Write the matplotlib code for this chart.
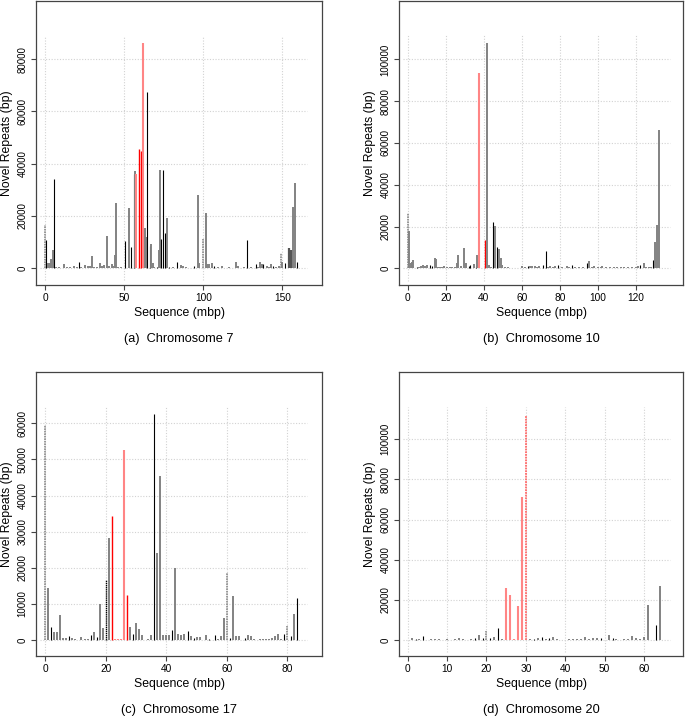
import matplotlib
matplotlib.use("Agg")
import matplotlib.pyplot as plt

plt.rcParams["font.family"] = ["Liberation Sans", "DejaVu Sans"]

# bar kinds: g = gray, k = black, r = red, p = light red,
# d = dotted gray, dk = dotted black, dp = dotted light red, dg = dark gray

# Chromosome 7
chr7_pos = [0, 0.8, 2, 3, 3.8, 5, 5.9, 7, 8, 9, 10, 12, 14, 16, 18, 20, 21.7, 23,
            25.5, 27, 28.5, 29.7, 31, 33, 34.8, 36, 37.5, 39, 40.5, 42, 43, 44,
            44.7, 46, 48, 50.8, 52.9, 54.6, 56, 56.7, 57.7, 59.4, 60.9, 62, 63,
            63.6, 64.7, 66.2, 67, 68, 69, 71, 72.3, 72.7, 73.5, 74.8, 76, 76.9,
            78, 80, 81, 83.6, 86, 87, 89, 91, 93.8, 96.5, 97.5, 100, 101.6,
            102.5, 103.5, 105.5, 107, 109, 112, 114, 116, 118, 120.5, 122, 124,
            126, 127.9, 130, 133, 134.5, 136, 137, 138, 140, 141.5, 143, 144,
            146, 148, 149, 149.5, 151.9, 154.4, 155.2, 156, 156.8, 157.8, 158.9]
chr7_val = [16500, 11000, 1900, 2200, 3400, 7000, 34000, 400, 300, 700, 300, 1500,
            500, 600, 800, 500, 2500, 600, 1300, 800, 900, 4800, 400, 500, 2000,
            800, 1200, 12300, 900, 1500, 1000, 5100, 25000, 500, 400, 10300,
            22900, 8000, 35900, 37100, 36000, 45600, 44900, 86100, 15400, 12000,
            67400, 8500, 9300, 2000, 500, 700, 7200, 37500, 11300, 37500, 13600,
            19100, 600, 300, 400, 2300, 1200, 800, 400, 300, 1000, 28000, 2000,
            11300, 21000, 1500, 1800, 2000, 800, 400, 900, 300, 500, 300, 2300,
            800, 300, 400, 10800, 500, 1800, 600, 2300, 1800, 1700, 900, 600,
            1700, 800, 400, 800, 5700, 2500, 2000, 7600, 7100, 7100, 23300,
            32800, 2300]
chr7_kind = ["d", "k", "g", "g", "g", "g", "k", "g", "g", "g", "g", "g", "g", "g",
             "g", "g", "k", "g", "g", "g", "g", "g", "g", "g", "g", "g", "g", "g",
             "g", "g", "g", "g", "g", "g", "g", "k", "g", "k", "k", "g", "p", "r",
             "r", "p", "g", "g", "k", "k", "g", "g", "g", "k", "g", "g", "k", "k",
             "k", "g", "k", "g", "g", "k", "g", "g", "g", "g", "k", "g", "g", "d",
             "g", "g", "g", "g", "k", "g", "g", "g", "g", "g", "g", "g", "g", "g",
             "k", "g", "k", "g", "g", "g", "k", "g", "g", "g", "k", "g", "g", "d",
             "g", "k", "dg", "dg", "dg", "g", "g", "k"]

# Chromosome 10
chr10_pos = [0, 0.9, 1.6, 2.2, 3, 5, 6, 7, 8, 9, 10, 11.5, 12.7, 14.4, 15, 16, 17,
             18, 19, 20.5, 22, 23.5, 25, 26, 26.6, 27.8, 29.8, 30.7, 32, 33, 35,
             35.8, 36.6, 37.7, 38.9, 40.8, 41.9, 43, 44, 45.1, 46, 46.9, 47.9,
             48.9, 49.8, 51, 53, 55, 58, 60, 61.5, 63.3, 64.5, 65.5, 67, 68, 69,
             71, 72.8, 74, 75, 76.5, 77.5, 79, 81, 83.7, 85, 86.3, 88, 90, 92,
             94.5, 95.6, 97, 98, 100, 101.5, 102.5, 104.5, 106.5, 108.5, 110, 112,
             114, 116, 118, 120, 121, 122, 124.1, 125.5, 127, 128.3, 129.3, 130.4,
             131.4, 132.3]
chr10_val = [26600, 18000, 2700, 3000, 4000, 800, 400, 1000, 1400, 1200, 1600, 1700,
             1300, 4800, 4600, 500, 400, 500, 1000, 500, 600, 500, 600, 2400, 6500,
             1000, 9900, 2500, 1300, 1400, 2000, 1200, 6400, 93300, 300, 13500,
             107700, 1500, 500, 22200, 20300, 10000, 9100, 5100, 1700, 400, 600,
             300, 300, 1000, 400, 1200, 1300, 1200, 1000, 800, 1200, 1600, 8300,
             700, 900, 600, 1000, 1700, 400, 1000, 800, 1700, 500, 600, 400, 2300,
             3300, 500, 1000, 500, 600, 1200, 400, 500, 700, 400, 600, 500, 700,
             500, 400, 900, 1600, 2500, 600, 500, 400, 4000, 12400, 20500, 66200]
chr10_kind = ["d", "g", "g", "g", "g", "k", "g", "g", "g", "g", "g", "k", "k", "g",
              "g", "g", "g", "g", "g", "g", "g", "g", "g", "g", "g", "g", "g", "g",
              "k", "k", "g", "k", "g", "p", "p", "r", "g", "g", "g", "k", "g", "k",
              "g", "g", "g", "g", "g", "g", "g", "g", "g", "k", "g", "g", "g", "g",
              "g", "k", "k", "g", "g", "g", "g", "k", "g", "g", "g", "k", "g", "g",
              "g", "k", "g", "g", "g", "g", "g", "g", "g", "g", "g", "g", "g", "g",
              "g", "g", "g", "g", "k", "g", "g", "g", "g", "k", "g", "g", "g"]

# Chromosome 17
chr17_pos = [0, 1, 2, 3, 4, 5, 6, 7, 8, 9, 10, 12, 13, 14, 15, 16, 17, 18, 19, 20,
             21, 22, 23, 24, 25, 26, 27, 28, 29, 30, 31, 32, 34, 35, 36, 37, 38,
             39, 40, 41, 42, 43, 44, 45, 46, 47, 48, 49, 50, 51, 53, 54, 56, 57,
             58, 59, 60, 61, 62, 63, 64, 66, 67, 68, 69, 71, 72, 73, 74, 75, 76,
             77, 78, 79, 80, 81, 82, 83]
chr17_val = [59500, 14300, 3700, 2300, 2300, 6900, 650, 650, 1000, 500, 400, 900,
             400, 200, 1400, 2100, 900, 10100, 3400, 16600, 28300, 34300, 300, 300,
             300, 52600, 12500, 3700, 1800, 4800, 3000, 1500, 300, 1500, 62500,
             24000, 45400, 1500, 1400, 1400, 2800, 20000, 1800, 1500, 1600, 2500,
             1200, 600, 700, 700, 1300, 300, 1300, 300, 1200, 6000, 18600, 600,
             12200, 1100, 1000, 600, 1500, 1000, 200, 300, 300, 200, 300, 600,
             1200, 1800, 400, 1600, 4000, 1200, 7200, 11600]
chr17_kind = ["d", "g", "k", "g", "g", "g", "g", "g", "k", "g", "g", "g", "g", "g",
              "k", "g", "k", "g", "g", "dk", "g", "r", "p", "p", "p", "p", "r", "g",
              "k", "g", "g", "g", "g", "g", "k", "g", "g", "g", "g", "g", "k", "g",
              "g", "g", "g", "k", "g", "k", "g", "g", "g", "k", "k", "g", "g", "g",
              "d", "k", "g", "g", "g", "k", "g", "g", "g", "g", "g", "g", "g", "g",
              "g", "g", "g", "k", "d", "k", "g", "k"]

# Chromosome 20
chr20_pos = [1, 2, 3, 4, 6, 7, 8, 9, 10, 11, 12, 13, 14, 16, 17, 18, 19, 20, 21, 22,
             23, 24, 25, 26, 27, 28, 29, 30, 31, 32, 33, 34, 35, 36, 37, 38, 41,
             42, 43, 44, 45, 46, 47, 48, 49, 51, 52, 53, 55, 56, 57, 58, 59, 60,
             61, 62, 63, 64]
chr20_val = [800, 500, 700, 1800, 300, 300, 300, 200, 300, 200, 300, 900, 500, 600,
             900, 2700, 900, 4300, 900, 1500, 5800, 300, 25800, 22400, 500, 16900,
             71400, 111800, 300, 600, 900, 1300, 600, 800, 1700, 300, 300, 300,
             600, 400, 1700, 600, 1200, 900, 1100, 2300, 1200, 300, 600, 700, 1900,
             1100, 300, 1500, 17400, 200, 7600, 26900]
chr20_kind = ["g", "k", "g", "k", "g", "g", "g", "g", "g", "g", "g", "g", "g", "g",
              "k", "g", "k", "d", "k", "g", "k", "g", "p", "p", "p", "p", "p", "dp",
              "g", "k", "g", "k", "g", "k", "g", "g", "g", "g", "g", "g", "g", "g",
              "g", "g", "k", "g", "k", "g", "g", "g", "g", "g", "g", "g", "g", "g",
              "k", "g"]

captions = ["(a)  Chromosome 7", "(b)  Chromosome 10",
            "(c)  Chromosome 17", "(d)  Chromosome 20"]

styles = {
    "g": dict(color="#828282", lw=1.4, ls="-"),
    "dg": dict(color="#555555", lw=1.6, ls="-"),
    "k": dict(color="#000000", lw=0.8, ls="-"),
    "r": dict(color="#ff0000", lw=1.0, ls="-"),
    "p": dict(color="#ff8585", lw=1.5, ls="-"),
    "d": dict(color="#8a8a8a", lw=1.2, ls=(0, (1, 0.5))),
    "dk": dict(color="#000000", lw=1.0, ls=(0, (1, 0.5))),
    "dp": dict(color="#ff6a6a", lw=1.3, ls=(0, (1, 0.5))),
}

panels = [
    # data, xlim, ylim, xticks, yticks, grid x range, grid y range, axes rect
    (chr7_pos, chr7_val, chr7_kind, (-5.7, 175), (-6370, 102400),
     [0, 50, 100, 150], [0, 20000, 40000, 60000, 80000],
     (-3, 165.4), (-4500, 89000), [0.0526, 0.6036, 0.4175, 0.3957]),
    (chr10_pos, chr10_val, chr10_kind, (-4.6, 144.9), (-8000, 128200),
     [0, 20, 40, 60, 80, 100, 120], [0, 20000, 40000, 60000, 80000, 100000],
     (-2.5, 138), (-6000, 111600), [0.5825, 0.6036, 0.4146, 0.3957]),
    (chr17_pos, chr17_val, chr17_kind, (-3.0, 91.4), (-4430, 74200),
     [0, 20, 40, 60, 80], [0, 10000, 20000, 30000, 40000, 50000, 60000],
     (-1.6, 86.4), (-3500, 64600), [0.0526, 0.0876, 0.4175, 0.3950]),
    (chr20_pos, chr20_val, chr20_kind, (-2.2, 69.9), (-7970, 133500),
     [0, 10, 20, 30, 40, 50, 60], [0, 20000, 40000, 60000, 80000, 100000],
     (-1.1, 66.6), (-6000, 116300), [0.5825, 0.0876, 0.4146, 0.3950]),
]

fig = plt.figure(figsize=(6.85, 7.19), dpi=100)

for i, (pos, val, kind, xlim, ylim, xt, yt, gx, gy, rect) in enumerate(panels):
    ax = fig.add_axes(rect)

    # dotted grid, only over the data region
    ax.hlines(yt, gx[0], gx[1], colors="#d2d2d2", linestyles=(0, (1, 1.5)), lw=0.8, zorder=0)
    ax.vlines(xt, gy[0], gy[1], colors="#d2d2d2", linestyles=(0, (1, 1.5)), lw=0.8, zorder=0)

    # bars drawn as spikes from zero
    for x, y, k in zip(pos, val, kind):
        st = styles[k]
        ax.vlines(x, 0, y, colors=st["color"], linewidth=st["lw"],
                  linestyles=[st["ls"]], zorder=2)

    ax.set_xlim(xlim)
    ax.set_ylim(ylim)
    ax.set_xticks(xt)
    ax.set_yticks(yt)
    ax.set_xticklabels([str(t) for t in xt], fontsize=7.3)
    ax.set_yticklabels([str(t) for t in yt], fontsize=7, rotation=90, va="center")
    ax.tick_params(direction="out", length=3.6, width=0.8, color="#444444", pad=2.5)
    for s in ax.spines.values():
        s.set_color("#444444")
        s.set_linewidth(0.9)

    ax.set_xlabel("Sequence (mbp)", fontsize=8.8, labelpad=2.5)
    ax.set_ylabel("Novel Repeats (bp)", fontsize=8.8, labelpad=3)

    cx = rect[0] + rect[2] / 2
    fig.text(cx, rect[1] - 0.075, captions[i], ha="center", va="center", fontsize=9.2)

plt.savefig("out.png", dpi=100)
